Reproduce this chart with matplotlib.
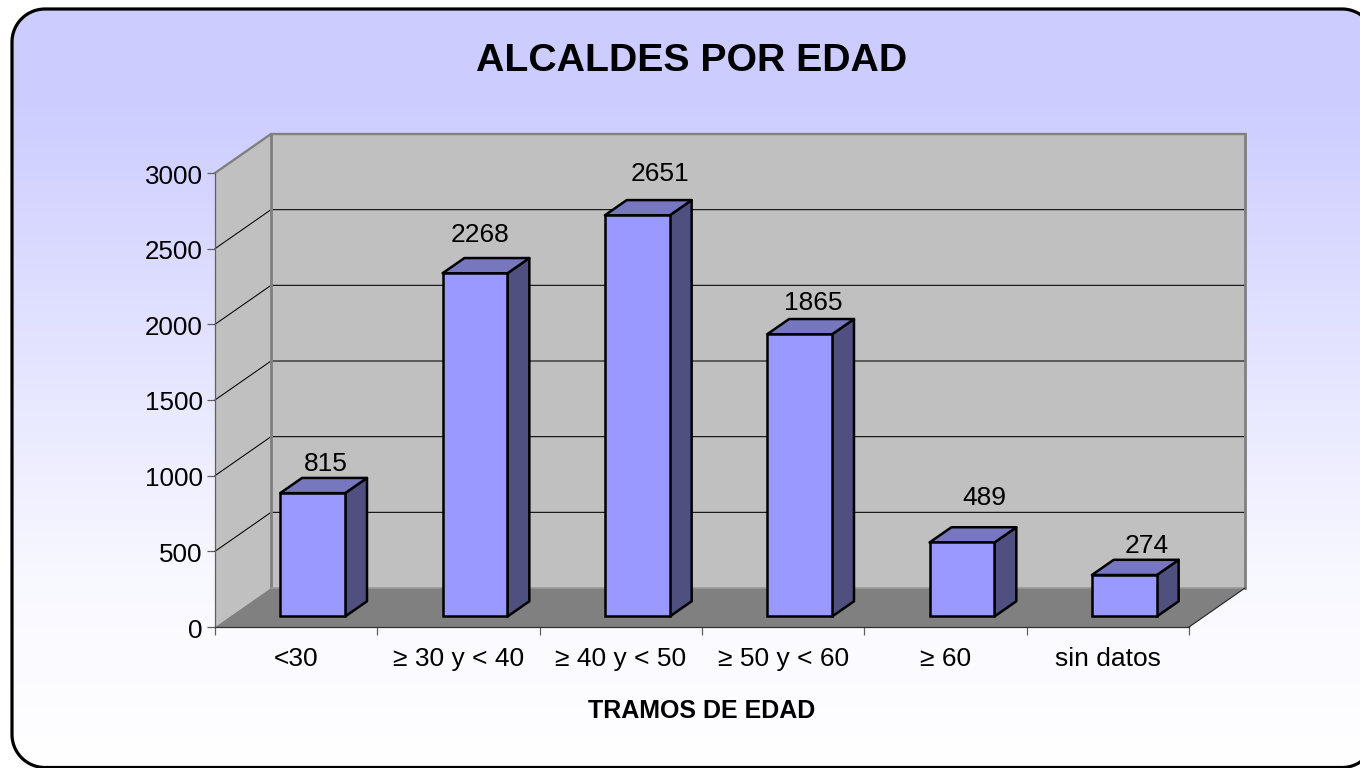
import numpy as np
import matplotlib
matplotlib.use("Agg")
import matplotlib.pyplot as plt
from matplotlib.patches import Polygon
from matplotlib.colors import LinearSegmentedColormap
from matplotlib.transforms import Affine2D

plt.rcParams['font.family'] = ['Liberation Sans', 'DejaVu Sans']

categories = ["<30", "≥ 30 y < 40", "≥ 40 y < 50", "≥ 50 y < 60", "≥ 60", "sin datos"]
values = [815, 2268, 2651, 1865, 489, 274]
y_ticks = [0, 500, 1000, 1500, 2000, 2500, 3000]
title = "ALCALDES POR EDAD"
x_title = "TRAMOS DE EDAD"

# label offsets (pixels) from the bar's front-top centre
label_dx = [13, 5, 23, 14, 22, 22]
label_dy = [29, 38, 41, 31, 44, 29]

W, H = 1360, 768
fig = plt.figure(figsize=(W / 100, H / 100), dpi=100, facecolor="white")

# Background: rounded panel running off the right edge
bg = fig.add_axes([0, 0, 1, 1], zorder=0)
bg.set_xlim(0, W)
bg.set_ylim(H, 0)
bg.axis("off")
cmap = LinearSegmentedColormap.from_list(
    "bg", [(0, "#CCCCFF"), (0.12, "#CCCCFF"), (0.75, "#F8F8FF"), (1, "#FFFFFF")], N=256)
grad = np.linspace(0, 1, 256)[:, None]
im = bg.imshow(grad, cmap=cmap, extent=[0, W, H, 0], aspect="auto", zorder=1)

x0, x1, y0, y1, r = 12, 1375, 9, 767.5, 33
pts = []
for cx, cy, a0 in [(x1 - r, y0 + r, -90), (x1 - r, y1 - r, 0), (x0 + r, y1 - r, 90), (x0 + r, y0 + r, 180)]:
    th = np.radians(np.linspace(a0, a0 + 90, 30))
    pts.extend(zip(cx + r * np.cos(th), cy + r * np.sin(th)))
box = Polygon(pts, closed=True, facecolor="none", edgecolor="black", lw=2.3, zorder=2, clip_on=False)
bg.add_patch(box)
im.set_clip_path(box)
bg.set_xlim(0, W)
bg.set_ylim(H, 0)

# Chart axes: front plane
ax = fig.add_axes([215 / W, (H - 627) / H, 974 / W, 454 / H], zorder=1)
ax.patch.set_alpha(0)
ax.set_xlim(0, 6)
ax.set_ylim(0, 3000)
for s in ax.spines.values():
    s.set_visible(False)

DX = 56 / (974 / 6)          # depth in data units
DY = 39 / (454 / 3000)

def dp(x, y, d):
    return (x + d * DX, y + d * DY)

# walls
ax.add_patch(Polygon([dp(0, 0, 0), dp(0, 3000, 0), dp(0, 3000, 1), dp(0, 0, 1)],
                     fc="#C0C0C0", ec="none", clip_on=False, zorder=1))
ax.add_patch(Polygon([dp(0, 0, 1), dp(0, 3000, 1), dp(6, 3000, 1), dp(6, 0, 1)],
                     fc="#C0C0C0", ec="none", clip_on=False, zorder=1))
ax.add_patch(Polygon([dp(0, 0, 0), dp(6, 0, 0), dp(6, 0, 1), dp(0, 0, 1)],
                     fc="#808080", ec="none", clip_on=False, zorder=1))

# gridlines
for t in y_ticks[1:-1]:
    a, b, c = dp(0, t, 0), dp(0, t, 1), dp(6, t, 1)
    ax.plot([a[0], b[0], c[0]], [a[1], b[1], c[1]], color="black", lw=0.75, zorder=2, clip_on=False)

# wall borders
GR = "#808080"
a, b = dp(0, 3000, 1), dp(6, 3000, 1)
ax.plot([dp(0, 3000, 0)[0], a[0], b[0]], [dp(0, 3000, 0)[1], a[1], b[1]], color=GR, lw=1.7, zorder=3, clip_on=False)
ax.plot([a[0], a[0]], [dp(0, 0, 1)[1], a[1]], color=GR, lw=2, zorder=3, clip_on=False)
ax.plot([b[0], b[0]], [dp(0, 0, 1)[1], b[1]], color=GR, lw=2, zorder=3, clip_on=False)
ax.plot([dp(0, 0, 1)[0], dp(6, 0, 1)[0]], [dp(0, 0, 1)[1]] * 2, color="#999999", lw=1.2, zorder=3, clip_on=False)
# front axis lines
ax.plot([0, 0], [0, 3000], color="#606060", lw=0.9, zorder=4, clip_on=False)
ax.plot([0, 6], [0, 0], color="#303030", lw=0.9, zorder=4, clip_on=False)
e = dp(6, 0, 1)
ax.plot([6, e[0]], [0, e[1]], color="#202020", lw=0.8, zorder=4, clip_on=False)

# bars
xc = np.arange(len(values)) + 0.5
d_front, d_back = 0.295, 0.685
bw = 0.40
FRONT, SIDE, TOP = "#9999FF", "#4F4F80", "#7777C0"
LW = 1.8
ox, oy = dp(0, 0, d_front)
ox2, oy2 = dp(0, 0, d_back)
oy -= 6.5                    # one pixel lower in data units
oy2 -= 6.5
ax.bar(xc + ox, values, bw, bottom=oy, color=FRONT, edgecolor="black", lw=LW, zorder=6, clip_on=False)
for x, v in zip(xc, values):
    l, r_ = x + ox - bw / 2, x + ox + bw / 2
    ax.add_patch(Polygon([(r_, oy), (r_ + ox2 - ox, oy2), (r_ + ox2 - ox, v + oy2), (r_, v + oy)],
                         fc=SIDE, ec="black", lw=LW, zorder=5, clip_on=False, joinstyle="round"))
    ax.add_patch(Polygon([(l, v + oy), (l + ox2 - ox, v + oy2), (r_ + ox2 - ox, v + oy2), (r_, v + oy)],
                         fc=TOP, ec="black", lw=LW, zorder=5, clip_on=False, joinstyle="round"))

# value labels
for x, v, ddx, ddy in zip(xc, values, label_dx, label_dy):
    ax.annotate(str(v), (x + ox, v + oy), xytext=(ddx, ddy), textcoords="offset pixels",
                ha="center", va="center", fontsize=19, color="black", zorder=7, annotation_clip=False)

# ticks
ax.set_yticks(y_ticks)
ax.set_yticklabels([str(t) for t in y_ticks], fontsize=18.7)
ax.set_xticks(np.arange(7))
ax.set_xticklabels([])
ax.set_xticks(xc, minor=True)
ax.set_xticklabels(categories, minor=True, fontsize=19)
ax.tick_params(axis="y", length=5.8, width=0.9, color="#606060", pad=3)
ax.tick_params(axis="x", which="major", length=5.8, width=0.9, color="#606060")
ax.tick_params(axis="x", which="minor", length=0, pad=14.7)
for lbl in ax.get_yticklabels():
    lbl.set_transform(lbl.get_transform() + Affine2D().translate(0, -1))

ax.set_xlabel(x_title, fontsize=18, fontweight="bold", labelpad=20)
fig.text(692 / W, 1 - 61 / H, title, ha="center", va="center", fontsize=28.3, fontweight="bold", zorder=5)

fig.savefig("out.png", dpi=100)
